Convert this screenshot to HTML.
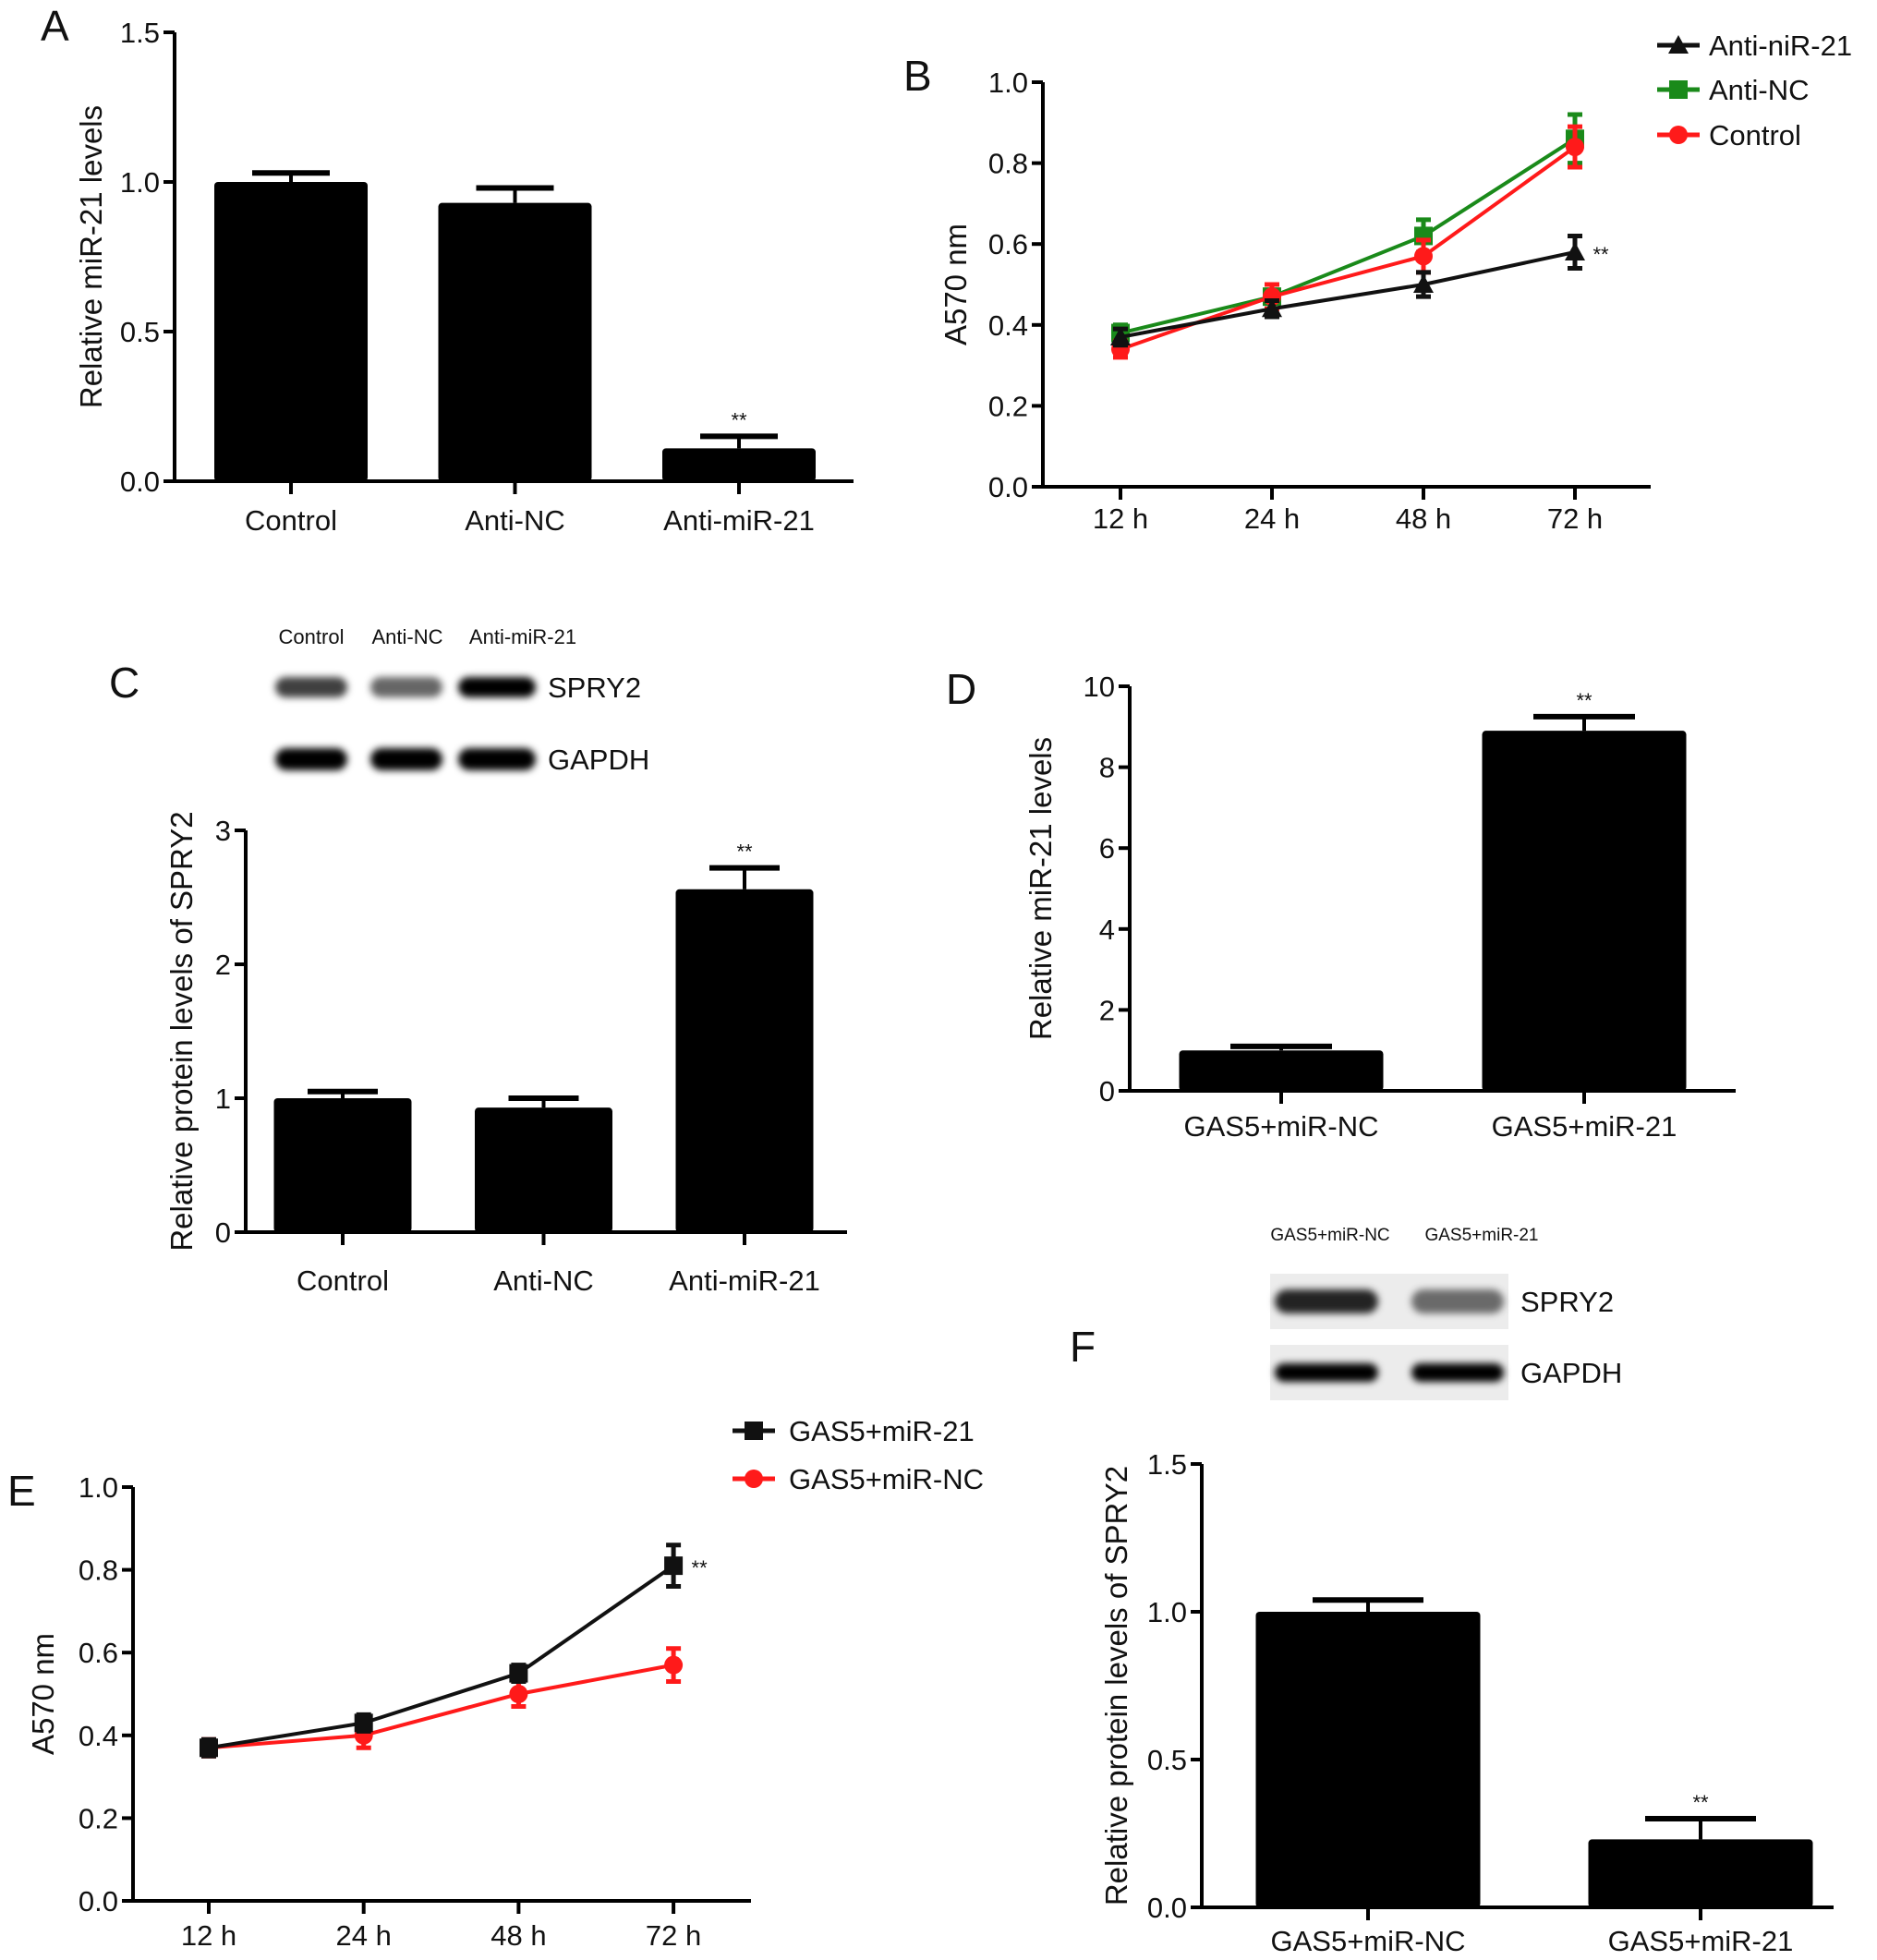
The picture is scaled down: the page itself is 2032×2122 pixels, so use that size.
<!DOCTYPE html>
<html><head><meta charset="utf-8">
<style>
html,body{margin:0;padding:0;background:#fff;}
svg{display:block;font-family:"Liberation Sans",Arial,sans-serif;}
</style></head>
<body>
<svg id="fig" width="2032" height="2122" viewBox="0 0 2032 2122" xmlns="http://www.w3.org/2000/svg">
<defs>
<filter id="blur" x="-20%" y="-60%" width="140%" height="220%"><feGaussianBlur stdDeviation="4"/></filter>
</defs>
</svg>
<script>
// ---- Panel A data ----
const aCats = ["Control","Anti-NC","Anti-miR-21"];
const aVals = [1.0, 0.93, 0.11];
const aErrs = [0.03, 0.05, 0.04];
const aTicks = [0, 0.5, 1.0, 1.5];
const aTickLabels = ["0.0","0.5","1.0","1.5"];
// ---- Panel B data ----
const bTimes = ["12 h","24 h","48 h","72 h"];
const bAnti = [0.37, 0.44, 0.50, 0.58];
const bAntiErr = [0.02, 0.02, 0.03, 0.04];
const bNC = [0.38, 0.47, 0.62, 0.86];
const bNCErr = [0.02, 0.03, 0.04, 0.06];
const bCtrl = [0.34, 0.47, 0.57, 0.84];
const bCtrlErr = [0.02, 0.03, 0.04, 0.05];
const bTicks = [0, 0.2, 0.4, 0.6, 0.8, 1.0];
const bTickLabels = ["0.0","0.2","0.4","0.6","0.8","1.0"];
// ---- Panel C data ----
const cCats = ["Control","Anti-NC","Anti-miR-21"];
const cVals = [1.0, 0.93, 2.56];
const cErrs = [0.05, 0.07, 0.16];
const cTicks = [0, 1, 2, 3];
const cTickLabels = ["0","1","2","3"];
// ---- Panel D data ----
const dCats = ["GAS5+miR-NC","GAS5+miR-21"];
const dVals = [1.0, 8.9];
const dErrs = [0.1, 0.35];
const dTicks = [0, 2, 4, 6, 8, 10];
const dTickLabels = ["0","2","4","6","8","10"];
// ---- Panel E data ----
const eTimes = ["12 h","24 h","48 h","72 h"];
const eMiR21 = [0.37, 0.43, 0.55, 0.81];
const eMiR21Err = [0.02, 0.02, 0.02, 0.05];
const eMiRNC = [0.37, 0.40, 0.50, 0.57];
const eMiRNCErr = [0.02, 0.03, 0.03, 0.04];
const eTicks = [0, 0.2, 0.4, 0.6, 0.8, 1.0];
const eTickLabels = ["0.0","0.2","0.4","0.6","0.8","1.0"];
// ---- Panel F data ----
const fCats = ["GAS5+miR-NC","GAS5+miR-21"];
const fVals = [1.0, 0.23];
const fErrs = [0.04, 0.07];
const fTicks = [0, 0.5, 1.0, 1.5];
const fTickLabels = ["0.0","0.5","1.0","1.5"];

const NS = "http://www.w3.org/2000/svg";
const svg = document.getElementById("fig");
function mk(tag, attrs, parent){
  const el = document.createElementNS(NS, tag);
  for (const k in attrs) el.setAttribute(k, attrs[k]);
  (parent||svg).appendChild(el);
  return el;
}
function txt(s, x, y, size, anchor, parent, extra){
  const t = mk("text", Object.assign({x:x, y:y, "font-size":size, "text-anchor":anchor||"middle", fill:"#111"}, extra||{}), parent);
  t.textContent = s;
  return t;
}

function axes(g, cfg, ticks, tickLabels, title, titleX){
  const y = v => cfg.y0 - (v - cfg.vmin)/(cfg.vmax - cfg.vmin)*(cfg.y0 - cfg.y1);
  const ya = mk("line",{x1:cfg.x0,y1:y(cfg.vmax),x2:cfg.x0,y2:cfg.y0+2,stroke:"#000","stroke-width":4},g);
  
  
  const xa = mk("line",{x1:cfg.x0-2,y1:cfg.y0,x2:cfg.xEnd,y2:cfg.y0,stroke:"#000","stroke-width":4},g);
  
  
  ticks.forEach((v,i)=>{
    const tk = mk("line",{x1:cfg.x0-12,y1:y(v),x2:cfg.x0,y2:y(v),stroke:"#000","stroke-width":4},g);
    
    
    const tl = txt(tickLabels[i], cfg.x0-16, y(v)+11, 31, "end", g);
    
    
  });
  const tt = txt(title, 0, 0, 33, "middle", g, {transform:"translate("+titleX+","+((cfg.y0+cfg.y1)/2)+") rotate(-90)"});
  
  
  return y;
}

function xLabels(g, cfg, cats, xs, labelY){
  cats.forEach((c,i)=>{
    const tk = mk("line",{x1:xs[i],y1:cfg.y0,x2:xs[i],y2:cfg.y0+14,stroke:"#000","stroke-width":4},g);
    
    
    const tl = txt(c, xs[i], labelY, 31, "middle", g);
    
    
  });
}

function barChart(name, cfg, cats, vals, errs, ticks, tickLabels, title, titleX, starIdx){
  const g = mk("g",{});
  
  
  const y = axes(g, cfg, ticks, tickLabels, title, titleX);
  const xs = cats.map((c,i)=> cfg.xFirst + cfg.step*i);
  vals.forEach((v,i)=>{
    const x = xs[i];
    const eb = mk("line",{x1:x,y1:y(v),x2:x,y2:y(v+errs[i]),stroke:"#000","stroke-width":4},g);
    
    
    const cap = mk("line",{x1:x-cfg.cap,y1:y(v+errs[i]),x2:x+cfg.cap,y2:y(v+errs[i]),stroke:"#000","stroke-width":6},g);
    
    
    const b = mk("rect",{x:x-cfg.bw/2,y:y(v),width:cfg.bw,height:cfg.y0-y(v),rx:4,fill:"#000"},g);
    
    
    if (i===starIdx){
      const s = txt("**", x, y(v+errs[i])-10, 22, "middle", g);
      
      
    }
  });
  xLabels(g, cfg, cats, xs, cfg.labelY);
}

function marker(g, shape, x, y, color){
  let m;
  if (shape==="tri") m = mk("polygon",{points:(x)+","+(y-11)+" "+(x-11)+","+(y+9)+" "+(x+11)+","+(y+9),fill:color},g);
  else if (shape==="sq") m = mk("rect",{x:x-10,y:y-10,width:20,height:20,fill:color},g);
  else m = mk("circle",{cx:x,cy:y,r:10,fill:color},g);
  return m;
}

function lineChart(name, cfg, times, series, ticks, tickLabels, title, titleX){
  const g = mk("g",{});
  
  
  const y = axes(g, cfg, ticks, tickLabels, title, titleX);
  const xs = times.map((c,i)=> cfg.xFirst + cfg.step*i);
  xLabels(g, cfg, times, xs, cfg.labelY);
  series.forEach(s=>{
    const sg = mk("g",{},g);
    
    
    const pts = s.vals.map((v,i)=> xs[i]+","+y(v)).join(" ");
    const pl = mk("polyline",{points:pts,fill:"none",stroke:s.color,"stroke-width":4},sg);
    
    
    s.vals.forEach((v,i)=>{
      const e = s.errs[i];
      const eb = mk("path",{d:"M"+(xs[i]-8)+","+y(v+e)+"H"+(xs[i]+8)+"M"+xs[i]+","+y(v+e)+"V"+y(v-e)+"M"+(xs[i]-8)+","+y(v-e)+"H"+(xs[i]+8),stroke:s.color,"stroke-width":5,fill:"none"},sg);
      
      
      const m = marker(sg, s.shape, xs[i], y(v), s.color);
      
      
    });
    if (s.star){
      const last = s.vals.length-1;
      const st = txt("**", xs[last]+28, y(s.vals[last])+10, 22, "middle", sg);
      
      
    }
  });
  return g;
}

function legend(entries, x, yList, textX){
  entries.forEach((e,i)=>{
    const lg = mk("g",{});
    
    
    const ln = mk("line",{x1:x,y1:yList[i],x2:x+46,y2:yList[i],stroke:e.color,"stroke-width":5},lg);
    
    
    const m = marker(lg, e.shape, x+23, yList[i], e.color);
    
    
    const t = txt(e.label, textX, yList[i]+11, 31, "start", lg);
    
    
  });
}

function panelLetter(s, x, y){
  const t = txt(s, x, y, 46, "start");
  
  
}

function blot(name, lanes, laneLabels, labelXs, boxX, boxW, rows, labelY, labelSize, rowLabelX, bg){
  const g = mk("g",{});
  
  
  laneLabels.forEach((l,i)=>{
    const t = txt(l, labelXs[i], labelY, labelSize, "middle", g);
    
    
  });
  rows.forEach(r=>{
    if (bg){
      const b = mk("rect",{x:boxX,y:r.y-30,width:boxW,height:60,fill:"#ececec"},g);
      
      
    }
    lanes.forEach((ln,i)=>{
      const band = mk("rect",{x:ln.cx-ln.w/2,y:r.y-r.h/2,width:ln.w,height:r.h,rx:r.h/2,fill:"#000","fill-opacity":r.op[i],filter:"url(#blur)"},g);
      
      
    });
    const t = txt(r.label, rowLabelX, r.y+11, 31, "start", g);
    
    
  });
}

// Panel A
panelLetter("A", 44, 44);
barChart("panel-a-bar-chart",
  {x0:189,y0:521,y1:35,vmin:0,vmax:1.5,xEnd:924,xFirst:315,step:242.5,bw:166,cap:42,labelY:574},
  aCats, aVals, aErrs, aTicks, aTickLabels, "Relative miR-21 levels", 110, 2);

// Panel B
panelLetter("B", 978, 98);
lineChart("panel-b-line-chart",
  {x0:1129,y0:527,y1:89,vmin:0,vmax:1.0,xEnd:1787,xFirst:1213,step:164,labelY:572},
  bTimes,
  [{key:"anti-nc",vals:bNC,errs:bNCErr,color:"#1a8a1a",shape:"sq"},
   {key:"control",vals:bCtrl,errs:bCtrlErr,color:"#ff1a1a",shape:"circ"},
   {key:"anti-mir-21",vals:bAnti,errs:bAntiErr,color:"#111",shape:"tri",star:true}],
  bTicks, bTickLabels, "A570 nm", 1046);
legend([{label:"Anti-niR-21",color:"#111",shape:"tri"},{label:"Anti-NC",color:"#1a8a1a",shape:"sq"},{label:"Control",color:"#ff1a1a",shape:"circ"}],
  1794, [49,97,146], 1850);

// Panel C
panelLetter("C", 118, 755);
blot("panel-c-western-blot",
  [{cx:337,w:78},{cx:440,w:78},{cx:538,w:84}],
  ["Control","Anti-NC","Anti-miR-21"], [337,441,566], 0, 0,
  [{label:"SPRY2",y:744,h:22,op:[0.75,0.6,1]},{label:"GAPDH",y:822,h:24,op:[1,1,1]}],
  697, 22, 593, false);
barChart("panel-c-bar-chart",
  {x0:266,y0:1334,y1:899,vmin:0,vmax:3,xEnd:917,xFirst:371,step:217.5,bw:149,cap:38,labelY:1397},
  cCats, cVals, cErrs, cTicks, cTickLabels, "Relative protein levels of SPRY2", 208, 2);

// Panel D
panelLetter("D", 1024, 762);
barChart("panel-d-bar-chart",
  {x0:1223,y0:1181,y1:743,vmin:0,vmax:10,xEnd:1879,xFirst:1387,step:328,bw:221,cap:55,labelY:1230},
  dCats, dVals, dErrs, dTicks, dTickLabels, "Relative miR-21 levels", 1138, 1);

// Panel E
panelLetter("E", 8, 1630);
lineChart("panel-e-line-chart",
  {x0:144,y0:2058,y1:1610,vmin:0,vmax:1.0,xEnd:813,xFirst:226,step:167.7,labelY:2106},
  eTimes,
  [{key:"gas5-mir-nc",vals:eMiRNC,errs:eMiRNCErr,color:"#ff1a1a",shape:"circ"},
   {key:"gas5-mir-21",vals:eMiR21,errs:eMiR21Err,color:"#111",shape:"sq",star:true}],
  eTicks, eTickLabels, "A570 nm", 58);
legend([{label:"GAS5+miR-21",color:"#111",shape:"sq"},{label:"GAS5+miR-NC",color:"#ff1a1a",shape:"circ"}],
  793, [1549,1601], 854);

// Panel F
panelLetter("F", 1158, 1474);
blot("panel-f-western-blot",
  [{cx:1436,w:112},{cx:1578,w:100}],
  ["GAS5+miR-NC","GAS5+miR-21"], [1440,1604], 1375, 258,
  [{label:"SPRY2",y:1409,h:26,op:[0.85,0.55]},{label:"GAPDH",y:1486,h:20,op:[1,1]}],
  1343, 19, 1646, true);
barChart("panel-f-bar-chart",
  {x0:1301,y0:2065,y1:1585,vmin:0,vmax:1.5,xEnd:1985,xFirst:1481,step:360,bw:243,cap:60,labelY:2112},
  fCats, fVals, fErrs, fTicks, fTickLabels, "Relative protein levels of SPRY2", 1220, 1);
</script>
</body></html>
